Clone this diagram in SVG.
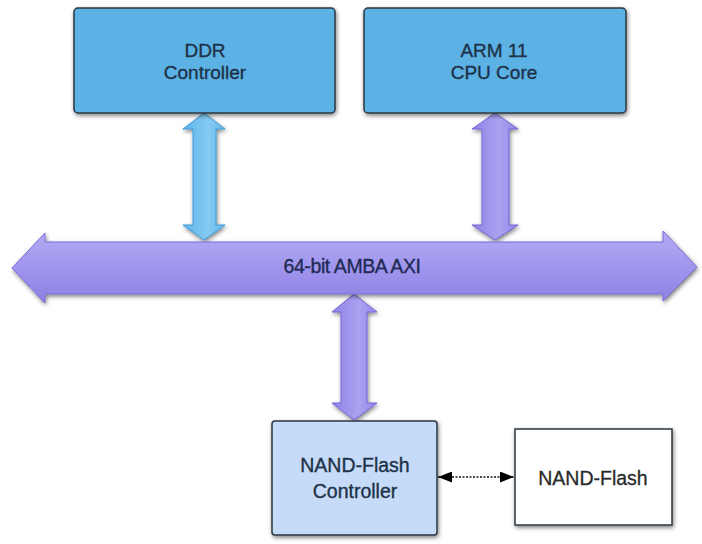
<svg xmlns="http://www.w3.org/2000/svg" width="702" height="544" viewBox="0 0 702 544">
<defs>
<filter id="sh" x="-10%" y="-10%" width="125%" height="125%">
<feGaussianBlur in="SourceAlpha" stdDeviation="2"/>
<feOffset dx="1" dy="2" result="b"/>
<feComponentTransfer><feFuncA type="linear" slope="0.5"/></feComponentTransfer>
<feMerge><feMergeNode/><feMergeNode in="SourceGraphic"/></feMerge>
</filter>
<linearGradient id="gBus" x1="0" y1="0" x2="0" y2="1">
<stop offset="0" stop-color="#b3abf3"/>
<stop offset="0.5" stop-color="#a196ee"/>
<stop offset="1" stop-color="#8d80e2"/>
</linearGradient>
<linearGradient id="gPur" x1="0" y1="0" x2="1" y2="0">
<stop offset="0" stop-color="#8f82e4"/>
<stop offset="0.6" stop-color="#aba2f1"/>
<stop offset="1" stop-color="#9386e6"/>
</linearGradient>
<linearGradient id="gBlu" x1="0" y1="0" x2="1" y2="0">
<stop offset="0" stop-color="#5db4ea"/>
<stop offset="0.6" stop-color="#85caf2"/>
<stop offset="1" stop-color="#62b6ea"/>
</linearGradient>
<marker id="ah" viewBox="0 0 14 11" refX="14" refY="5.5" markerWidth="14" markerHeight="11" markerUnits="userSpaceOnUse" orient="auto-start-reverse">
<path d="M0,0 L14,5.5 L0,11 z" fill="#000"/>
</marker>
<style>
.box{stroke:#2b3640;stroke-width:1.5}
.t{font-family:"Liberation Sans",Arial,sans-serif;font-size:19px;fill:#1d3248;stroke:#1d3248;stroke-width:0.35;text-anchor:middle}
.t2{font-family:"Liberation Sans",Arial,sans-serif;font-size:19.5px;fill:#2a2a2a;stroke:#2a2a2a;stroke-width:0.3;text-anchor:middle}
.pa{fill:url(#gPur);stroke:#7565d8;stroke-width:1}
.ba{fill:url(#gBlu);stroke:#3f9bd6;stroke-width:1}
</style>
</defs>
<g id="connectors">
<path class="ba" filter="url(#sh)" d="M204,113 L225,129 L216,129 L216,225 L225,225 L204,240 L183,225 L193,225 L193,129 L183,129 Z"/>
<path class="pa" filter="url(#sh)" d="M495,113 L518,129 L509,129 L509,225 L518,225 L495,240 L472,225 L482,225 L482,129 L472,129 Z"/>
<path class="pa" filter="url(#sh)" d="M354,294 L377,312 L367,312 L367,403 L377,403 L354,420 L332,403 L341,403 L341,312 L332,312 Z"/>
<line x1="438" y1="477" x2="514" y2="477" stroke="#111" stroke-width="1.4" stroke-dasharray="2,1.5" marker-start="url(#ah)" marker-end="url(#ah)"/>
</g>
<g id="bus">
<path filter="url(#sh)" fill="url(#gBus)" stroke="#7a6bdc" stroke-width="1" d="M12,268 L45,233 L45,242 L663,242 L663,231 L697,267 L663,301 L663,294 L45,294 L45,303 Z"/>
<text class="t" x="352" y="273" style="font-size:19.5px;letter-spacing:-0.4px;fill:#1f2a55;stroke:#1f2a55">64-bit AMBA AXI</text>
</g>
<g id="ddr">
<rect class="box" filter="url(#sh)" x="74" y="8" width="261" height="105" rx="4" fill="#5bb1e5"/>
<text class="t" x="205" y="57">DDR</text>
<text class="t" x="205" y="79">Controller</text>
</g>
<g id="arm">
<rect class="box" filter="url(#sh)" x="364" y="8" width="262" height="105" rx="4" fill="#5bb1e5"/>
<text class="t" x="494" y="57">ARM 11</text>
<text class="t" x="494" y="79">CPU Core</text>
</g>
<g id="nandctrl">
<rect class="box" filter="url(#sh)" x="272" y="421" width="165" height="114" rx="3" fill="#c6dbf8"/>
<text class="t" x="355" y="472" style="font-size:19.5px">NAND-Flash</text>
<text class="t" x="355" y="498" style="font-size:19.5px">Controller</text>
</g>
<g id="nand">
<rect class="box" filter="url(#sh)" x="515" y="429" width="157" height="96" fill="#ffffff"/>
<text class="t2" x="593" y="485">NAND-Flash</text>
</g>
</svg>
